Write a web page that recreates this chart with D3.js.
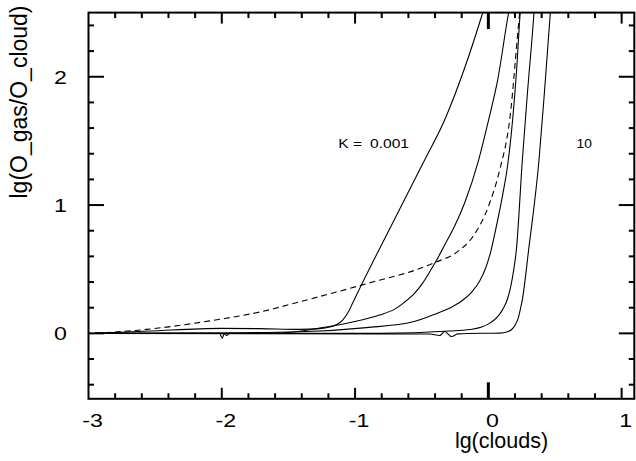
<!DOCTYPE html>
<html><head><meta charset="utf-8">
<script src="https://cdn.jsdelivr.net/npm/d3@7"></script>
<style>body{margin:0;background:#fff} svg{display:block}</style>
</head><body>
<svg id="c" width="636" height="461"></svg>
<script>
// ---- data ----
const curveK0001 = [[-2.95,0.0],[-2.541,0.018],[-2.008,0.039],[-1.716,0.037],[-1.416,0.031],[-1.266,0.037],[-1.191,0.049],[-1.138,0.069],[-1.093,0.104],[-1.055,0.158],[-1.018,0.236],[-0.953,0.376],[-0.718,0.860],[-0.478,1.351],[-0.328,1.663],[-0.178,2.068],[-0.043,2.497],[-0.020,2.575]];
const curveK2 = [[-2.95,0],[-2.166,0.0],[-1.588,0.002],[-1.266,0.041],[-1.018,0.088],[-0.816,0.143],[-0.703,0.189],[-0.628,0.244],[-0.553,0.314],[-0.493,0.392],[-0.441,0.478],[-0.388,0.571],[-0.328,0.688],[-0.253,0.836],[-0.178,1.016],[-0.073,1.351],[0.002,1.663],[0.070,1.975],[0.152,2.497],[0.167,2.575]];
const curveDashed = [[-2.953,0.0],[-2.566,0.031],[-2.008,0.111],[-1.716,0.166],[-1.416,0.246],[-0.953,0.376],[-0.416,0.546],[-0.215,0.649],[-0.118,0.751],[0.010,1.016],[0.085,1.273],[0.160,1.663],[0.235,2.497],[0.243,2.575]];
const curveK3 = [[-2.95,0],[-2.164,0.002],[-1.416,0.012],[-0.915,0.045],[-0.566,0.090],[-0.418,0.143],[-0.290,0.197],[-0.200,0.252],[-0.125,0.322],[-0.065,0.408],[-0.020,0.509],[0.017,0.634],[0.062,0.844],[0.107,1.078],[0.145,1.312],[0.182,1.663],[0.212,2.052],[0.239,2.497],[0.246,2.575]];
const curveK4 = [[-2.95,0],[-2.016,0],[-1.996,-0.037],[-1.982,-0.002],[-1.963,-0.017],[-1.941,0],[-0.816,0.0],[-0.291,0.018],[-0.140,0.030],[-0.050,0.049],[0.017,0.084],[0.070,0.131],[0.107,0.185],[0.141,0.260],[0.167,0.361],[0.190,0.493],[0.210,0.649],[0.255,1.351],[0.295,1.896],[0.342,2.497],[0.347,2.575]];
const curveK10 = [[-2.95,0],[-0.440,-0.005],[-0.365,-0.017],[-0.328,0.014],[-0.275,-0.025],[-0.230,-0.004],[0.010,0.001],[0.085,0.002],[0.137,0.010],[0.175,0.030],[0.201,0.065],[0.224,0.119],[0.242,0.197],[0.257,0.275],[0.302,0.649],[0.380,1.351],[0.422,1.896],[0.465,2.497],[0.471,2.575]];

const xTickValues = [-3,-2,-1,0,1];
const xTickLabels = ["-3","-2","-1","0","1"];
const yTickValues = [0,1,2];
const yTickLabels = ["0","1","2"];
const xTitle = "lg(clouds)";
const yTitle = "lg(O_gas/O_cloud)";
const kPrefix = "K =";
const kFirst = "0.001";
const kLast = "10";

// ---- drawing ----
const FONT = "'Liberation Sans', Arial, Helvetica, sans-serif";
const svg = d3.select("#c");
const x = d3.scaleLinear().domain([-3, 1.095]).range([88.5, 634.3]);
const y = d3.scaleLinear().domain([-0.51, 2.5]).range([398.8, 12.6]);
const [x0, x1] = x.range();
const [yb, yt] = y.range();

svg.append("defs").append("clipPath").attr("id","clip")
  .append("rect").attr("x",x0).attr("y",yt).attr("width",x1-x0).attr("height",yb-yt);

const line = d3.line().x(d=>x(d[0])).y(d=>y(d[1])).curve(d3.curveMonotoneX);
const curves = [
  {data: curveK0001, dash: null},
  {data: curveK2, dash: null},
  {data: curveK3, dash: null},
  {data: curveK4, dash: null},
  {data: curveK10, dash: null},
  {data: curveDashed, dash: "6,4"}
];
const gc = svg.append("g").attr("clip-path","url(#clip)");
curves.forEach(c => {
  gc.append("path").attr("d", line(c.data)).attr("fill","none")
    .attr("stroke","#000").attr("stroke-width",1.1)
    .attr("stroke-dasharray", c.dash);
});

// frame
svg.append("rect").attr("x",x0).attr("y",yt).attr("width",x1-x0).attr("height",yb-yt)
  .attr("fill","none").attr("stroke","#000").attr("stroke-width",2);

// ticks
const gt = svg.append("g").attr("stroke","#000").attr("stroke-width",2);
const isInt = v => Math.abs(v - Math.round(v)) < 1e-6;
d3.range(-3, 1.1 + 1e-9, 0.2).forEach(v => {
  const px = x(v);
  if (px <= x0 + 1 || px >= x1 - 1) return;
  let len = isInt(v) ? 11 : 5.5;
  let w = 2;
  if (Math.abs(v) < 1e-6) { len = 16.5; w = 3; }
  gt.append("line").attr("x1",px).attr("x2",px).attr("y1",yb).attr("y2",yb-len).attr("stroke-width",w);
  gt.append("line").attr("x1",px).attr("x2",px).attr("y1",yt).attr("y2",yt+len).attr("stroke-width",w);
});
d3.range(-0.4, 2.5 - 1e-9, 0.2).forEach(v => {
  const py = y(v);
  const len = isInt(v) ? 15.5 : 5.5;
  gt.append("line").attr("x1",x0).attr("x2",x0+len).attr("y1",py).attr("y2",py);
  gt.append("line").attr("x1",x1).attr("x2",x1-len).attr("y1",py).attr("y2",py);
});

// texts (glyphs appear horizontally widened in the reference)
function wideText(tx, ty, str, size, anchor, sx) {
  svg.append("text").attr("transform", `translate(${tx},${ty}) scale(${sx},1)`)
    .attr("text-anchor", anchor).attr("font-family", FONT).attr("font-size", size)
    .attr("fill","#000").text(str);
}
xTickValues.forEach((v,i) => wideText(x(v) + 4, 426.7, xTickLabels[i], 19, "middle", 1.22));
yTickValues.forEach((v,i) => wideText(67, y(v) + 6.8, yTickLabels[i], 19, "end", 1.22));

// axis titles
svg.append("text").attr("x", 501.5).attr("y", 448).attr("text-anchor","middle")
  .attr("font-family", FONT).attr("font-size", 21.5).text(xTitle);
svg.append("text").attr("transform","translate(26.5,102) rotate(-90)").attr("text-anchor","middle")
  .attr("font-family", FONT).attr("font-size", 23).text(yTitle);

// K annotations
wideText(338.3, 148.3, kPrefix, 12, "start", 1.3);
wideText(370, 148.3, kFirst, 12, "start", 1.3);
wideText(576.5, 148.3, kLast, 12, "start", 1.15);
</script>
</body></html>
